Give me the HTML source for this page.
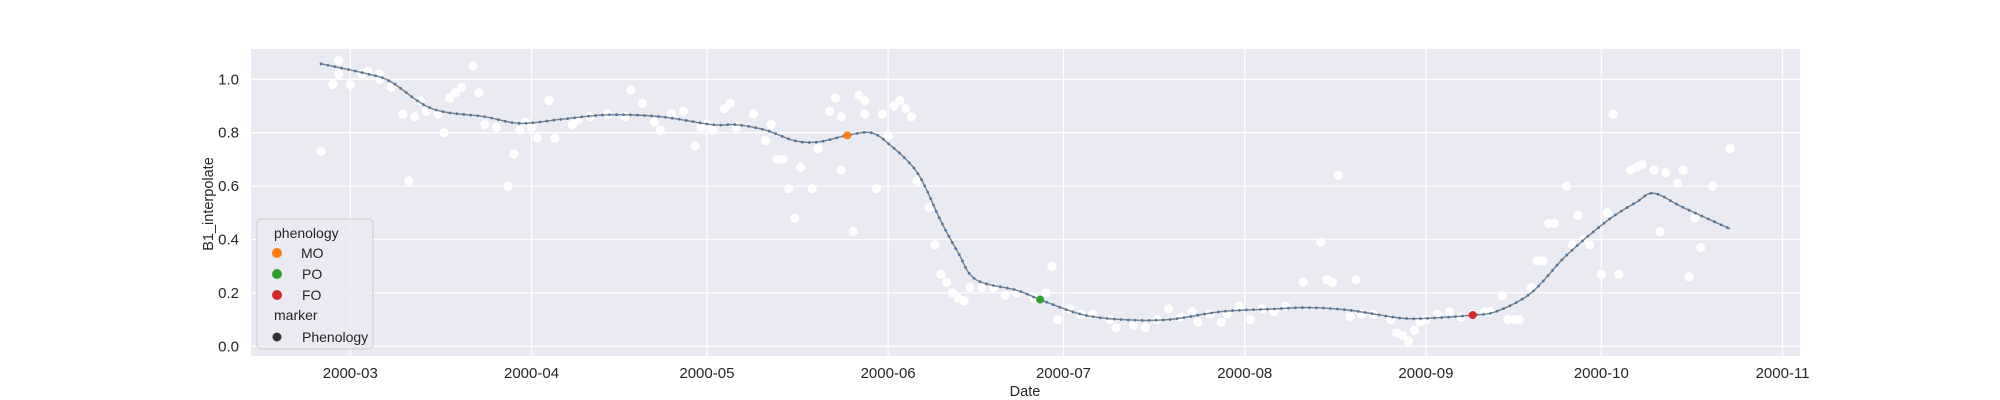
<!DOCTYPE html>
<html><head><meta charset="utf-8"><style>
html,body{margin:0;padding:0;background:#fff;}
svg{display:block;font-family:"Liberation Sans","DejaVu Sans",sans-serif;}
</style></head><body>
<svg id="chart" width="2000" height="400" xmlns="http://www.w3.org/2000/svg">
<rect x="251" y="49" width="1549" height="307" fill="#eaeaf2"/>
<g id="grid"></g>
<g id="ticks"></g>
<g id="scatter"></g>
<g id="curve"></g>
<g id="pheno"></g>
<text x="1025" y="396" text-anchor="middle" font-size="14.5" fill="#262626">Date</text>
<text transform="translate(213,204) rotate(-90)" text-anchor="middle" font-size="14.5" fill="#262626">B1_interpolate</text>
<g>
<rect x="257" y="219" width="116" height="130" rx="4" fill="#eaeaf2" fill-opacity="0.8" stroke="#cccccc"/>
<text x="274" y="238" font-size="14" fill="#262626">phenology</text>
<circle cx="277" cy="253" r="5" fill="#ff7f0e"/>
<text x="301" y="258" font-size="14" fill="#262626">MO</text>
<circle cx="277" cy="274" r="5" fill="#2ca02c"/>
<text x="302" y="279" font-size="14" fill="#262626">PO</text>
<circle cx="277" cy="295" r="5" fill="#d62728"/>
<text x="302" y="300" font-size="14" fill="#262626">FO</text>
<text x="274" y="320" font-size="14" fill="#262626">marker</text>
<circle cx="277" cy="337" r="4.5" fill="#333333"/>
<text x="302" y="342" font-size="14" fill="#262626">Phenology</text>
</g>
</svg>
<script>
// days are offsets from 2000-03-01
const xTickLabels = ["2000-03","2000-04","2000-05","2000-06","2000-07","2000-08","2000-09","2000-10","2000-11"];
const xTickDays = [0,31,61,92,122,153,184,214,245];
const yTicks = [0.0,0.2,0.4,0.6,0.8,1.0];
const yTickLabels = ["0.0","0.2","0.4","0.6","0.8","1.0"];
const scatterDays = [-5,-3,-2,-2,0,2,3,5,5,7,9,10,11,12,13,15,16,17,18,19,21,22,23,25,27,28,29,30,31,32,34,35,38,39,41,44,47,48,50,52,53,55,57,59,60,61,62,64,65,66,69,71,72,73,74,75,76,77,79,80,82,83,84,84,86,87,88,88,90,91,92,93,94,95,96,97,99,100,101,102,103,104,105,106,108,110,112,114,117,119,120,121,123,125,127,130,131,134,136,138,140,142,144,145,147,149,150,152,154,156,158,160,163,166,167,168,169,171,172,173,175,178,179,180,181,182,183,184,186,188,190,192,194,195,197,198,199,200,202,203,204,205,206,208,209,210,211,212,214,215,216,217,219,220,221,223,224,225,227,228,229,230,231,233,236];
const scatterValues = [0.73,0.98,1.02,1.07,0.98,1.02,1.03,1.02,1.0,0.97,0.87,0.62,0.86,0.92,0.88,0.87,0.8,0.93,0.95,0.97,1.05,0.95,0.83,0.82,0.6,0.72,0.81,0.84,0.82,0.78,0.92,0.78,0.83,0.85,0.86,0.87,0.86,0.96,0.91,0.84,0.81,0.87,0.88,0.75,0.82,0.83,0.81,0.89,0.91,0.82,0.87,0.77,0.83,0.7,0.7,0.59,0.48,0.67,0.59,0.74,0.88,0.93,0.86,0.66,0.43,0.94,0.87,0.92,0.59,0.87,0.79,0.9,0.92,0.89,0.86,0.62,0.52,0.38,0.27,0.24,0.2,0.18,0.17,0.22,0.22,0.22,0.19,0.2,0.18,0.2,0.3,0.1,0.14,0.12,0.12,0.1,0.07,0.08,0.07,0.1,0.14,0.11,0.13,0.09,0.12,0.09,0.12,0.15,0.1,0.14,0.13,0.15,0.24,0.39,0.25,0.24,0.64,0.11,0.25,0.12,0.12,0.1,0.05,0.04,0.02,0.06,0.09,0.1,0.12,0.13,0.11,0.12,0.13,0.13,0.19,0.1,0.1,0.1,0.22,0.32,0.32,0.46,0.46,0.6,0.38,0.49,0.4,0.38,0.27,0.5,0.87,0.27,0.66,0.67,0.68,0.66,0.43,0.65,0.61,0.66,0.26,0.48,0.37,0.6,0.74];
const curveDays = [-5,3,7,14,23,29,36,44,53,62,66,71,76,80,85,89,92,97,101,104,107,114,118,125,132,140,149,158,164,171,180,186,192,196,202,208,215,220,223,228,236];
const curveValues = [1.058,1.02,0.99,0.89,0.86,0.835,0.85,0.867,0.86,0.83,0.83,0.81,0.77,0.765,0.79,0.80,0.76,0.65,0.47,0.35,0.25,0.21,0.175,0.12,0.10,0.10,0.13,0.14,0.145,0.135,0.105,0.107,0.117,0.13,0.2,0.34,0.47,0.54,0.573,0.52,0.44];
const phenoLabels = ["MO","PO","FO"];
const phenoDays = [85,118,192];
const phenoValues = [0.79,0.175,0.117];
const phenoColors = ["#ff7f0e","#2ca02c","#d62728"];

const NS="http://www.w3.org/2000/svg";
const PL=251,PR=1800,PT=49,PB=356;
function xs(d){return 350.3+d*5.846;}
function ys(v){return 346.3-v*267;}
function mk(tag,attrs,parent){const e=document.createElementNS(NS,tag);for(const k in attrs)e.setAttribute(k,attrs[k]);parent.appendChild(e);return e;}
const grid=document.getElementById('grid'),ticks=document.getElementById('ticks');
xTickDays.forEach((d,i)=>{
  const x=xs(d);
  const l=mk('line',{x1:x,x2:x,y1:PT,y2:PB,stroke:'#fff','stroke-width':1.3},grid);
  
  
  const t=mk('text',{x:x,y:378,'text-anchor':'middle','font-size':15,fill:'#262626'},ticks);
  t.textContent=xTickLabels[i];
  
  
});
yTicks.forEach((v,i)=>{
  const y=ys(v);
  const l=mk('line',{x1:PL,x2:PR,y1:y,y2:y,stroke:'#fff','stroke-width':1.3},grid);
  
  
  const t=mk('text',{x:239,y:y+5,'text-anchor':'end','font-size':15,fill:'#262626'},ticks);
  t.textContent=yTickLabels[i];
  
  
});
const sc=document.getElementById('scatter');
scatterDays.forEach((d,i)=>{
  const c=mk('circle',{cx:xs(d),cy:ys(scatterValues[i]),r:4.6,fill:'#ffffff'},sc);
  
  
});
const cg=document.getElementById('curve');
const P=curveDays.map((d,i)=>[xs(d),ys(curveValues[i])]);
let dstr='M'+P[0][0]+','+P[0][1];
for(let i=0;i<P.length-1;i++){
  const p0=P[Math.max(i-1,0)],p1=P[i],p2=P[i+1],p3=P[Math.min(i+2,P.length-1)];
  const c1=[p1[0]+(p2[0]-p0[0])/6,p1[1]+(p2[1]-p0[1])/6];
  const c2=[p2[0]-(p3[0]-p1[0])/6,p2[1]-(p3[1]-p1[1])/6];
  dstr+=' C'+c1[0]+','+c1[1]+' '+c2[0]+','+c2[1]+' '+p2[0]+','+p2[1];
}
const path=mk('path',{d:dstr,fill:'none',stroke:'#7f7f7f','stroke-width':1.4},cg);


const len=path.getTotalLength();
for(let s=0;s<=len;s+=7){
  const p=path.getPointAtLength(s);
  const c=mk('circle',{cx:p.x,cy:p.y,r:1.4,fill:'#4a78a8'},cg);
  
  
}
const pg=document.getElementById('pheno');
phenoDays.forEach((d,i)=>{
  const c=mk('circle',{cx:xs(d),cy:ys(phenoValues[i]),r:4,fill:phenoColors[i]},pg);
  
  
});
</script>
</body></html>
